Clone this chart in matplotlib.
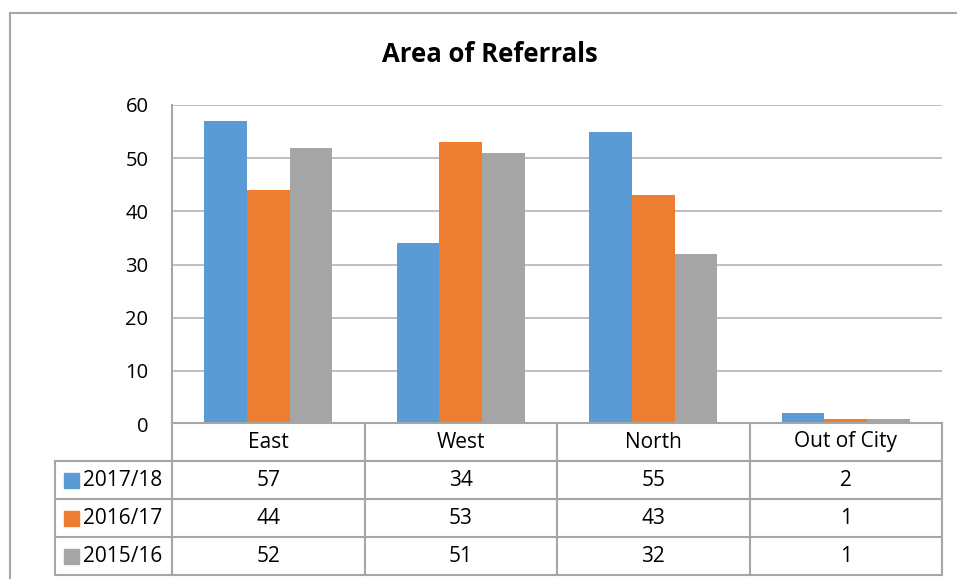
import matplotlib.pyplot as plt
from matplotlib.patches import Rectangle
import numpy as np

plt.rcParams['font.family'] = ['Open Sans', 'DejaVu Sans']

categories = ["East", "West", "North", "Out of City"]
series = ["2017/18", "2016/17", "2015/16"]
v1718 = [57, 34, 55, 2]
v1617 = [44, 53, 43, 1]
v1516 = [52, 51, 32, 1]
colors = ["#5B9BD5", "#ED7D31", "#A5A5A5"]
values = [v1718, v1617, v1516]

W, H = 957, 579
fig = plt.figure(figsize=(W / 100, H / 100), dpi=100)

# plot area in pixel units -> figure fraction
left, right, top, base = 172, 942, 105, 424
ax = fig.add_axes([left / W, 1 - base / H, (right - left) / W, (base - top) / H])

x = np.arange(len(categories))
bw = 0.222
for i, (name, vals) in enumerate(zip(series, values)):
    ax.bar(x + (i - 1) * bw, vals, bw, color=colors[i], zorder=3)

ax.set_xlim(-0.5, len(categories) - 0.5)
ax.set_ylim(0, 60)
ax.set_yticks(range(0, 61, 10))
ax.set_xticks([])
ax.tick_params(axis='y', length=0, pad=17, labelsize=14.5)
ax.grid(axis='y', color='#b4b4b4', lw=1.2, zorder=0)
for s in ['top', 'right', 'bottom']:
    ax.spines[s].set_visible(False)
ax.spines['left'].set_color('#a6a6a6')
ax.spines['left'].set_linewidth(1.5)

# overlay for table, border and title (pixel coordinates)
ov = fig.add_axes([0, 0, 1, 1], zorder=5)
ov.set_xlim(0, W)
ov.set_ylim(H, 0)
ov.axis('off')
lc = '#a6a6a6'

# outer chart border
ov.plot([10, W], [12.5, 12.5], color=lc, lw=1.5)
ov.plot([10, 10], [12.5, H], color=lc, lw=1.5)

ov.text(490, 55, "Area of Referrals", ha='center', va='center',
        fontsize=18.5, fontweight='bold')

# data table
rows = [423, 461, 499, 537, 575]
col_w = (right - left) / len(categories)
cols = [left + k * col_w for k in range(len(categories) + 1)]
legx = 55
fs = 15

ov.plot([left, right], [rows[0], rows[0]], color=lc, lw=1.5)
for r in rows[1:]:
    ov.plot([legx, right], [r, r], color=lc, lw=1.5)
for c in cols:
    ov.plot([c, c], [rows[0], rows[-1]], color=lc, lw=1.5)
ov.plot([legx, legx], [rows[1], rows[-1]], color=lc, lw=1.5)

for j, cat in enumerate(categories):
    ov.text((cols[j] + cols[j + 1]) / 2, (rows[0] + rows[1]) / 2, cat,
            ha='center', va='center', fontsize=fs)

for i, (name, vals) in enumerate(zip(series, values)):
    yc = (rows[i + 1] + rows[i + 2]) / 2
    ov.add_patch(Rectangle((64, yc - 7.5), 15, 15, color=colors[i]))
    ov.text(83, yc, name, ha='left', va='center', fontsize=fs)
    for j, v in enumerate(vals):
        ov.text((cols[j] + cols[j + 1]) / 2, yc, str(v),
                ha='center', va='center', fontsize=fs)

fig.savefig("out.png", dpi=100)
